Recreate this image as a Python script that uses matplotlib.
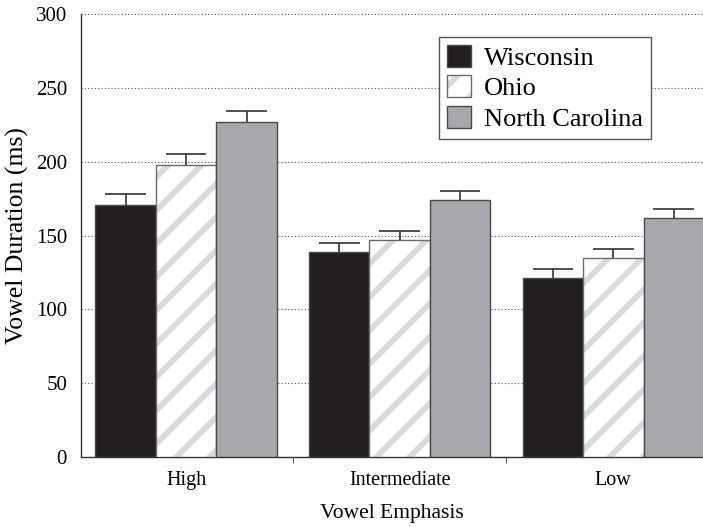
import matplotlib
matplotlib.use('Agg')
import matplotlib.pyplot as plt
import matplotlib.patches as patches
from matplotlib.ticker import FixedLocator
import numpy as np

categories = ['High', 'Intermediate', 'Low']
states = ['Wisconsin', 'Ohio', 'North Carolina']
wisconsin = [171, 139, 121]
ohio = [198, 147, 135]
north_carolina = [227, 174, 162]
wisconsin_err = [7, 6, 6]
ohio_err = [7, 6, 6]
north_carolina_err = [7, 6, 6]

plt.rcParams['font.family'] = ['Liberation Serif', 'DejaVu Serif']
plt.rcParams['hatch.linewidth'] = 4.2

fig = plt.figure(figsize=(7.03, 5.27), dpi=100)
ax = fig.add_axes([0.1152, 0.1328, 0.8848, 0.8406])

x = np.arange(len(categories))
width = 0.283
cap = 0.095
edge = '#4a4a4a'
stripe = '#d9dadc'

def draw_errors(xs, vals, errs):
    tops = np.array(vals) + np.array(errs)
    ax.vlines(xs, vals, tops, colors='#333333', linewidth=1.2, zorder=4)
    ax.hlines(tops, xs - cap, xs + cap, colors='#333333', linewidth=1.2, zorder=4)

ax.bar(x - width, wisconsin, width, color='#231f20', edgecolor=edge, linewidth=1, zorder=3)
draw_errors(x - width, wisconsin, wisconsin_err)

ax.bar(x, ohio, width, color='white', edgecolor=stripe, hatch='/', linewidth=0, zorder=3)
ax.bar(x, ohio, width, fill=False, edgecolor='#6a6a6a', linewidth=1, zorder=3)
draw_errors(x, ohio, ohio_err)

ax.bar(x + width, north_carolina, width, color='#a7a8ab', edgecolor=edge, linewidth=1, zorder=3)
draw_errors(x + width, north_carolina, north_carolina_err)

ax.set_ylim(0, 300)
ax.set_xlim(-0.492, 2.42)
ax.set_yticks(np.arange(0, 301, 50))
ax.tick_params(axis='y', length=0, pad=10, labelsize=15)
ax.set_xticks(x)
ax.set_xticklabels(categories)
ax.tick_params(axis='x', which='major', length=0, pad=10, labelsize=14.5)
ax.xaxis.set_minor_locator(FixedLocator([0.5, 1.5]))
ax.tick_params(axis='x', which='minor', length=4, direction='out', color='#333333')

ax.grid(axis='y', linestyle=(0, (1, 2)), color='#555555', linewidth=0.8, zorder=0)
ax.set_axisbelow(True)
for s in ['top', 'right']:
    ax.spines[s].set_visible(False)
for s in ['left', 'bottom']:
    ax.spines[s].set_color('#333333')
    ax.spines[s].set_linewidth(1)

ax.set_ylabel('Vowel Duration (ms)', fontsize=18.5, labelpad=5)
ax.set_xlabel('Vowel Emphasis', fontsize=15.5, labelpad=10)

handles = [
    patches.Patch(facecolor='#231f20', edgecolor=edge),
    (patches.Patch(facecolor='white', edgecolor=stripe, hatch='/', linewidth=0),
     patches.Patch(fill=False, edgecolor='#6a6a6a')),
    patches.Patch(facecolor='#a7a8ab', edgecolor=edge),
]
leg = ax.legend(handles, states, loc='upper right', bbox_to_anchor=(0.9164, 0.948),
                fontsize=19, handlelength=0.9, handleheight=0.9, handletextpad=0.5,
                borderpad=0.3, labelspacing=0.2, fancybox=False, framealpha=1,
                edgecolor='#555555', borderaxespad=0)
leg.get_frame().set_linewidth(1)

fig.savefig('out.png', dpi=100)
